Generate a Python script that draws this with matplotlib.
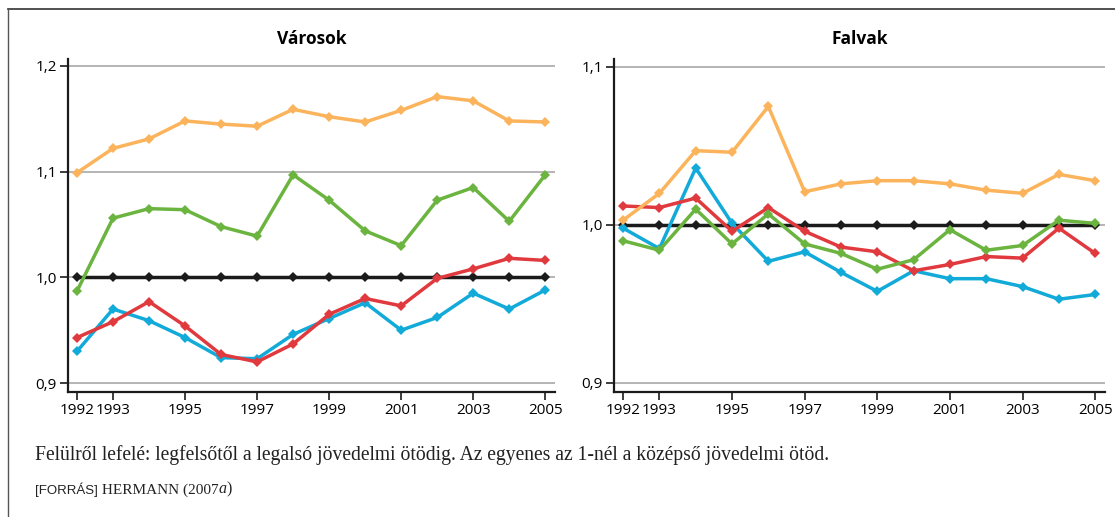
import numpy as np
import matplotlib
matplotlib.use("Agg")
import matplotlib.pyplot as plt

years = np.arange(1992, 2006)
xtick_years = [1992, 1993, 1995, 1997, 1999, 2001, 2003, 2005]

# Városok (towns)
varos_top = [1.099, 1.122, 1.131, 1.148, 1.145, 1.143, 1.159, 1.152, 1.147, 1.158, 1.171, 1.167, 1.148, 1.147]
varos_q4 = [0.987, 1.056, 1.065, 1.064, 1.048, 1.039, 1.097, 1.073, 1.044, 1.030, 1.073, 1.085, 1.053, 1.097]
varos_mid = [1.0] * 14
varos_q2 = [0.943, 0.958, 0.977, 0.954, 0.927, 0.920, 0.937, 0.965, 0.980, 0.973, 0.999, 1.008, 1.018, 1.016]
varos_low = [0.930, 0.970, 0.959, 0.943, 0.924, 0.923, 0.946, 0.961, 0.976, 0.950, 0.962, 0.985, 0.970, 0.988]

# Falvak (villages)
falu_top = [1.003, 1.020, 1.047, 1.046, 1.075, 1.021, 1.026, 1.028, 1.028, 1.026, 1.022, 1.020, 1.032, 1.028]
falu_q4 = [0.990, 0.984, 1.010, 0.988, 1.007, 0.988, 0.982, 0.972, 0.978, 0.997, 0.984, 0.987, 1.003, 1.001]
falu_mid = [1.0] * 14
falu_q2 = [1.012, 1.011, 1.017, 0.996, 1.011, 0.996, 0.986, 0.983, 0.971, 0.975, 0.980, 0.979, 0.998, 0.982]
falu_low = [0.998, 0.985, 1.036, 1.001, 0.977, 0.983, 0.970, 0.958, 0.971, 0.966, 0.966, 0.961, 0.953, 0.956]

colors = {"top": "#fbb45c", "q4": "#6ab43f", "mid": "#1b1b1b", "q2": "#e0393e", "low": "#12aad8"}

fig = plt.figure(figsize=(11.15, 5.17), dpi=100)
plt.rcParams['font.family'] = ['Open Sans', 'DejaVu Sans']


def panel(rect, title, series, ylim, yticks):
    ax = fig.add_axes(rect)
    for key, vals in series:  # black middle line first, coloured on top
        ax.plot(years, vals, color=colors[key], lw=2.5, marker='D', ms=5.5,
                markeredgewidth=0, zorder=3)
    for t in yticks:
        ax.axhline(t, color='#b4b4b4', lw=1.4, zorder=1)
    ax.set_xlim(1991.75, 2005.27)
    ax.set_ylim(*ylim)
    ax.set_xticks(xtick_years)
    ax.set_yticks(yticks)
    ax.set_yticklabels([f"{t:.1f}".replace('.', ',') for t in yticks])
    for s in ['top', 'right']:
        ax.spines[s].set_visible(False)
    for s in ['left', 'bottom']:
        ax.spines[s].set_linewidth(1.6)
        ax.spines[s].set_color('#1b1b1b')
    ax.tick_params(axis='both', length=6, width=1.2, labelsize=11, color='#1b1b1b', pad=2)
    ax.set_title(title, fontsize=12.5, fontweight='bold', pad=11)
    return ax


panel([68 / 1115, 1 - 392 / 517, 487 / 1115, 333 / 517], "Városok",
      [("mid", varos_mid), ("low", varos_low), ("q2", varos_q2), ("q4", varos_q4), ("top", varos_top)],
      (0.8915, 1.2066), [0.9, 1.0, 1.1, 1.2])
panel([614 / 1115, 1 - 392 / 517, 491 / 1115, 333 / 517], "Falvak",
      [("mid", falu_mid), ("low", falu_low), ("q2", falu_q2), ("q4", falu_q4), ("top", falu_top)],
      (0.8943, 1.105), [0.9, 1.0, 1.1])

# frame around the figure (top and left only)
fig.add_artist(plt.Line2D([8 / 1115, 1], [1 - 9 / 517] * 2, color='#333333', lw=1.2))
fig.add_artist(plt.Line2D([8 / 1115] * 2, [0, 1 - 9 / 517], color='#555555', lw=1.0))

fig.text(35 / 1115, 1 - 455 / 517, "Felülről lefelé: legfelsőtől a legalsó jövedelmi ötödig. "
         "Az egyenes az 1-nél a középső jövedelmi ötöd.",
         family='Liberation Serif', fontsize=14.1, va='center', color='#222222')

t1 = fig.text(35 / 1115, 1 - 494 / 517, "[FORRÁS]", family='Liberation Sans',
              fontsize=9.5, va='baseline', color='#222222')
t2 = plt.annotate(" HERMANN (2007", xy=(1, 0), xycoords=t1, va='bottom', ha='left',
                  family='Liberation Serif', fontsize=11, color='#222222')
t3 = plt.annotate("a", xy=(1, 0), xycoords=t2, va='bottom', ha='left',
                  family='Liberation Serif', style='italic', fontsize=11.5, color='#222222')
plt.annotate(")", xy=(1, 0), xycoords=t3, va='bottom', ha='left',
             family='Liberation Serif', fontsize=11.5, color='#222222')

fig.savefig("out.png", dpi=100)
